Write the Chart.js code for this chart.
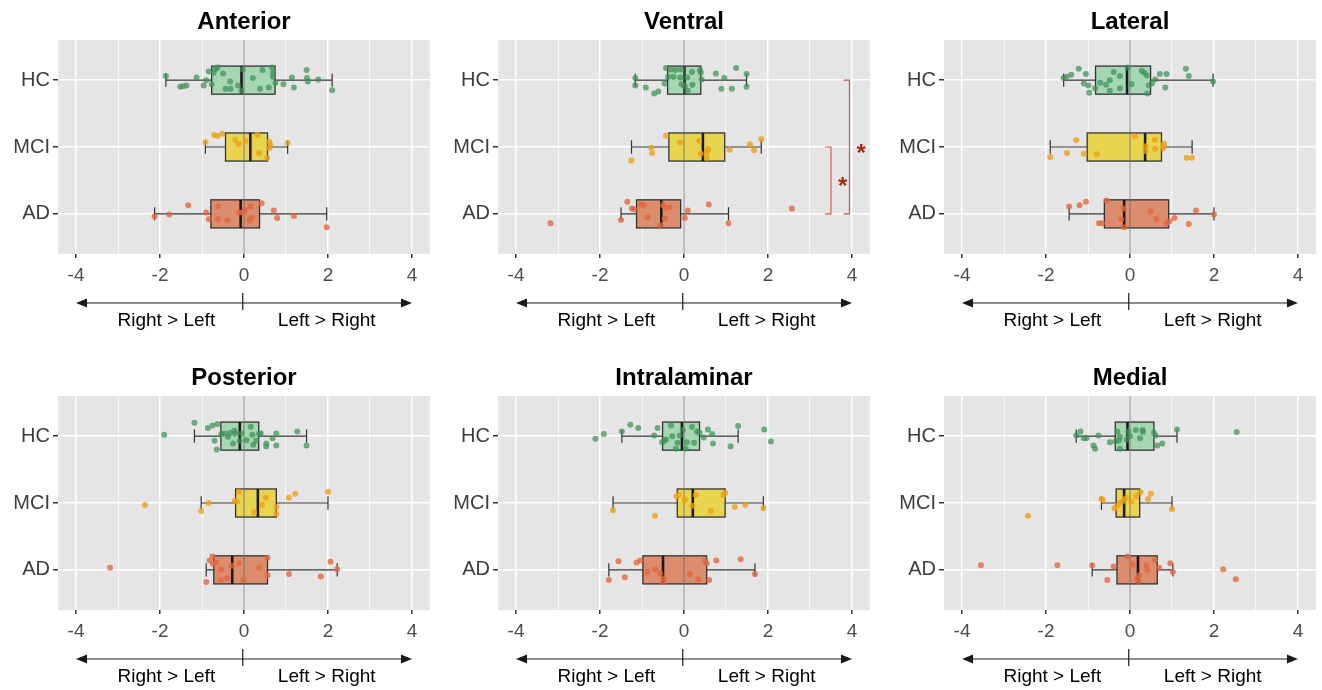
<!DOCTYPE html>
<html>
<head>
<meta charset="utf-8">
<title>Thalamic nuclei asymmetry</title>
<script src="https://cdn.jsdelivr.net/npm/chart.js@4.4.1/dist/chart.umd.min.js"></script>
<style>
  body { margin: 0; background: #fff; width: 1322px; height: 690px; overflow: hidden; position: relative; }
  .panel { position: absolute; width: 440px; height: 345px; }
  .panel.right { width: 436px; }
</style>
</head>
<body>
<div class="panel" style="left:0;top:0"><canvas id="c-anterior"></canvas></div>
<div class="panel" style="left:440px;top:0"><canvas id="c-ventral"></canvas></div>
<div class="panel right" style="left:886px;top:0"><canvas id="c-lateral"></canvas></div>
<div class="panel" style="left:0;top:356px"><canvas id="c-posterior"></canvas></div>
<div class="panel" style="left:440px;top:356px"><canvas id="c-intralaminar"></canvas></div>
<div class="panel right" style="left:886px;top:356px"><canvas id="c-medial"></canvas></div>

<script>
const groups = ["HC", "MCI", "AD"];
const xTicks = [-4, -2, 0, 2, 4];
const xGrid = [-4, -3, -2, -1, 0, 1, 2, 3, 4];

// box stats per group: [lower whisker, q1, median, q3, upper whisker]
const anteriorBox = [[-1.86, -0.77, -0.06, 0.74, 2.10], [-0.92, -0.44, 0.15, 0.56, 1.04], [-2.13, -0.79, -0.08, 0.37, 1.97]];
const ventralBox = [[-1.16, -0.39, 0.01, 0.40, 1.49], [-1.25, -0.36, 0.45, 0.97, 1.84], [-1.50, -1.13, -0.54, -0.08, 1.06]];
const lateralBox = [[-1.58, -0.82, -0.07, 0.49, 1.98], [-1.90, -1.02, 0.36, 0.75, 1.48], [-1.45, -0.61, -0.14, 0.92, 2.00]];
const posteriorBox = [[-1.18, -0.55, -0.10, 0.35, 1.49], [-1.02, -0.20, 0.33, 0.77, 2.00], [-0.90, -0.72, -0.28, 0.56, 2.22]];
const intralaminarBox = [[-1.48, -0.51, -0.05, 0.37, 1.29], [-1.69, -0.16, 0.21, 0.98, 1.89], [-1.79, -0.98, -0.50, 0.54, 1.69]];
const medialBox = [[-1.28, -0.35, -0.06, 0.57, 1.12], [-0.68, -0.33, -0.14, 0.23, 1.00], [-0.90, -0.31, 0.19, 0.65, 1.02]];

// jittered subjects: [asymmetry value, vertical jitter]
const anteriorHC = [[-1.86,-0.06],[-1.52,0.10],[-1.45,0.09],[-1.37,0.08],[-1.13,-0.04],[-0.96,0.08],[-0.90,0],[-0.84,-0.13],[-0.77,0.06],[-0.72,-0.11],[-0.67,-0.17],[-0.63,-0.19],[-0.50,-0.10],[-0.44,0.13],[-0.32,0.13],[-0.33,0.02],[-0.14,0.08],[-0.06,0.16],[-0.03,-0.16],[0.21,-0.03],[0.38,0.13],[0.44,-0.15],[0.59,0.11],[0.67,-0.19],[0.69,-0.11],[0.69,-0.05],[0.75,0.04],[0.94,0.06],[1.14,-0.04],[1.19,0.11],[1.49,-0.15],[1.50,-0.03],[1.52,0.02],[1.77,-0.01],[2.10,0.15]];
const anteriorMCI = [[-0.92,-0.07],[-0.71,-0.18],[-0.63,-0.17],[-0.52,-0.20],[-0.21,-0.11],[-0.13,-0.05],[0.03,-0.09],[0.32,-0.18],[0.36,0.09],[0.55,0.16],[0.60,-0.08],[0.63,-0.03],[0.60,0.02],[1.04,-0.06]];
const anteriorAD = [[-2.13,0.04],[-1.78,0.01],[-1.33,-0.13],[-0.90,-0.02],[-0.84,0.08],[-0.62,-0.11],[-0.62,0.08],[-0.40,0.10],[-0.12,-0.02],[-0.04,-0.02],[0.02,-0.05],[0.16,-0.11],[0.18,0.06],[0.13,0.10],[0.42,-0.16],[0.71,-0.05],[0.79,0.06],[1.19,0.03],[1.97,0.20]];

const ventralHC = [[-1.16,-0.03],[-1.16,0.08],[-0.91,0.11],[-0.71,0.20],[-0.61,0.17],[-0.46,0.05],[-0.43,-0.18],[-0.38,-0.05],[-0.31,-0.16],[-0.25,-0.05],[-0.20,-0.15],[-0.09,-0.04],[-0.07,-0.16],[-0.06,0.06],[0.02,0.09],[0.08,-0.04],[0.09,0.16],[0.19,-0.12],[0.20,0.07],[0.38,-0.15],[0.40,-0.11],[0.42,-0.01],[0.76,-0.10],[0.96,-0.03],[0.89,0.13],[1.14,0.13],[1.24,-0.18],[1.49,-0.09],[1.49,0.10]];
const ventralMCI = [[-1.25,0.20],[-0.78,0.01],[-0.76,0.09],[-0.43,-0.17],[-0.09,-0.07],[0.36,-0.09],[0.40,0.10],[0.54,0.16],[0.55,0.07],[0.58,0.03],[1.09,0.04],[1.57,-0.04],[1.67,0.05],[1.84,-0.12]];
const ventralAD = [[-3.18,0.14],[-1.50,0.09],[-1.35,-0.18],[-1.24,-0.08],[-1.19,-0.07],[-1.02,-0.14],[-0.95,-0.12],[-0.87,0.05],[-0.56,0.17],[-0.50,-0.13],[-0.45,-0.09],[-0.46,0.07],[-0.35,-0.10],[0.02,0.06],[0.09,-0.05],[0.59,-0.14],[1.06,0.14],[2.57,-0.08]];

const lateralHC = [[-1.58,-0.03],[-1.51,-0.05],[-1.40,-0.08],[-1.22,-0.17],[-1.10,0.05],[-1.05,-0.09],[-0.99,0.08],[-0.97,0.19],[-0.83,0.12],[-0.71,0.04],[-0.57,0.07],[-0.48,0],[-0.48,0.16],[-0.39,-0.12],[-0.24,0.12],[-0.24,-0.06],[-0.06,-0.19],[0.04,0.06],[0.28,-0.14],[0.34,-0.11],[0.40,-0.07],[0.41,0.20],[0.45,0.08],[0.52,0.05],[0.60,-0.01],[0.71,-0.09],[0.84,0.11],[0.87,-0.09],[1.33,-0.17],[1.40,-0.06],[1.98,0.02]];
const lateralMCI = [[-1.90,0.15],[-1.50,0.09],[-1.28,-0.10],[-1.10,0.10],[-0.79,0.11],[0.11,-0.16],[0.37,-0.01],[0.37,0.06],[0.59,-0.11],[0.60,0.03],[0.79,0.02],[0.81,-0.05],[0.80,-0.01],[1.35,0.16],[1.47,0.16]];
const lateralAD = [[-1.45,-0.11],[-1.20,-0.13],[-1.05,-0.18],[-0.74,0.14],[-0.67,0.14],[-0.56,-0.20],[-0.21,0.08],[-0.15,-0.08],[-0.14,0.20],[0.49,-0.04],[0.63,0.08],[0.87,0.14],[0.94,0.11],[1.06,0.06],[1.40,0.15],[1.57,-0.05],[2.00,0.01]];

const posteriorHC = [[-1.90,-0.02],[-1.18,-0.20],[-0.86,-0.12],[-0.75,-0.16],[-0.63,-0.18],[-0.70,0.07],[-0.65,0.20],[-0.54,-0.03],[-0.46,-0.04],[-0.38,0.01],[-0.33,-0.05],[-0.26,0.11],[-0.23,-0.08],[-0.21,-0.04],[-0.10,0.07],[-0.06,-0.04],[0.06,0.06],[0.16,-0.14],[0.20,-0.02],[0.22,0.13],[0.29,0.07],[0.36,-0.03],[0.40,-0.04],[0.53,0.11],[0.53,0.15],[0.68,0.03],[0.77,-0.04],[0.77,0.14],[1.27,-0.07],[1.49,0.14]];
const posteriorMCI = [[-2.36,0.03],[-1.02,0.12],[-0.84,0],[-0.22,-0.03],[-0.17,-0.02],[-0.12,-0.17],[0.24,0.14],[0.43,0.03],[0.52,-0.08],[0.77,0.06],[0.77,0.16],[1.07,-0.08],[1.22,-0.14],[2.00,-0.17]];
const posteriorAD = [[-3.19,-0.03],[-0.90,0.18],[-0.82,-0.14],[-0.75,-0.20],[-0.74,-0.09],[-0.67,-0.11],[-0.55,-0.01],[-0.55,0.16],[-0.40,0.12],[-0.29,-0.06],[-0.12,-0.10],[-0.02,0.15],[0.36,-0.03],[0.56,-0.18],[0.56,0.08],[1.07,0.06],[1.83,0.10],[2.06,-0.12],[2.22,-0.01]];

const intralaminarHC = [[-2.11,0.04],[-1.91,-0.03],[-1.48,-0.07],[-1.28,-0.17],[-1.09,-0.12],[-0.71,-0.01],[-0.63,-0.12],[-0.52,0.09],[-0.47,0.07],[-0.43,0.05],[-0.31,-0.16],[-0.28,0],[-0.19,0.19],[-0.15,0.10],[-0.10,-0.01],[-0.03,-0.09],[0.04,0.19],[0.07,0.09],[0.19,-0.14],[0.24,0.10],[0.31,-0.07],[0.37,-0.05],[0.47,0.02],[0.57,-0.10],[0.67,-0.03],[0.69,0.11],[1.11,0.15],[1.29,-0.15],[1.91,-0.10],[2.07,0.08]];
const intralaminarMCI = [[-1.69,0.11],[-0.69,0.19],[-0.18,-0.10],[-0.13,-0.12],[0.02,-0.05],[0.20,0.04],[0.28,-0.12],[0.64,0.12],[0.94,-0.12],[0.98,-0.15],[1.21,0.06],[1.46,0.03],[1.89,0.08]];
const intralaminarAD = [[-1.79,0.15],[-1.56,-0.13],[-1.41,0.11],[-1.13,-0.11],[-1.04,-0.14],[-0.87,0.03],[-0.69,-0.01],[-0.57,0.05],[-0.50,0.18],[-0.48,0.13],[0.14,0.06],[0.34,0.14],[0.50,-0.14],[0.54,-0.10],[0.60,0.15],[0.77,-0.14],[1.35,-0.16],[1.69,0.06]];

const medialHC = [[-1.28,-0.01],[-1.18,-0.07],[-1.10,0.03],[-1.04,0.03],[-0.75,-0.01],[-0.87,0.14],[-0.83,0.19],[-0.48,0.09],[-0.35,0.08],[-0.30,-0.07],[-0.26,0.07],[-0.24,0.19],[-0.24,0.01],[-0.08,0.05],[-0.04,-0.07],[0,0],[0.14,-0.09],[0.24,0.03],[0.30,-0.09],[0.31,-0.06],[0.57,-0.05],[0.61,-0.01],[0.65,0.14],[0.77,0.11],[1.12,-0.10],[2.54,-0.06]];
const medialMCI = [[-2.43,0.19],[-0.68,-0.06],[-0.65,-0.05],[-0.37,0.08],[-0.31,0.04],[-0.24,0],[-0.16,-0.03],[-0.10,-0.07],[0.03,-0.02],[0.15,-0.10],[0.25,-0.16],[0.43,-0.06],[0.50,-0.14],[1.00,0.09]];
const medialAD = [[-3.55,-0.07],[-1.73,-0.07],[-0.90,-0.07],[-0.54,0.15],[-0.39,-0.05],[-0.06,-0.20],[0.06,-0.08],[0.16,0.13],[0.20,0.17],[0.22,0.08],[0.39,-0.07],[0.41,0.01],[0.60,-0.15],[0.69,-0.03],[0.96,-0.10],[1.02,0.03],[2.22,-0.01],[2.52,0.14]];

// significance brackets (group index from/to, x position)
const ventralBrackets = [{ from: 1, to: 3, x: 3.94, label: "*" }, { from: 2, to: 3, x: 3.50, label: "*" }];

const boxFill = ["#a7d6b3", "#e8d44f", "#db8d6d"];
const pointFill = ["rgba(62,145,88,0.72)", "rgba(236,160,22,0.78)", "rgba(226,102,62,0.78)"];
const FONT = 'Arial, "Liberation Sans", sans-serif';

const panels = [
  { id: "c-anterior", title: "Anterior", box: anteriorBox, points: [anteriorHC, anteriorMCI, anteriorAD] },
  { id: "c-ventral", title: "Ventral", box: ventralBox, points: [ventralHC, ventralMCI, ventralAD], brackets: ventralBrackets },
  { id: "c-lateral", title: "Lateral", box: lateralBox, points: [lateralHC, lateralMCI, lateralAD] },
  { id: "c-posterior", title: "Posterior", box: posteriorBox, points: [posteriorHC, posteriorMCI, posteriorAD] },
  { id: "c-intralaminar", title: "Intralaminar", box: intralaminarBox, points: [intralaminarHC, intralaminarMCI, intralaminarAD] },
  { id: "c-medial", title: "Medial", box: medialBox, points: [medialHC, medialMCI, medialAD] },
];

const BOX_HALF = 0.21;
const CAP_HALF = 0.1;

function panelFor(chart) {
  return panels.find((p) => p.id === chart.canvas.id);
}

const boxplotPlugin = {
  id: "boxplot",
  beforeDraw(chart) {
    const { ctx, chartArea: a } = chart;
    ctx.save();
    ctx.fillStyle = "#e5e5e5";
    ctx.fillRect(a.left, a.top, a.right - a.left, a.bottom - a.top);
    ctx.restore();
  },
  beforeDatasetsDraw(chart) {
    const def = panelFor(chart);
    const { ctx, chartArea: a } = chart;
    const xs = chart.scales.x;
    const ys = chart.scales.y;
    ctx.save();
    def.box.forEach((s, i) => {
      const cat = i + 1;
      const yc = ys.getPixelForValue(cat);
      const yt = ys.getPixelForValue(cat - BOX_HALF);
      const yb = ys.getPixelForValue(cat + BOX_HALF);
      const [lo, q1, med, q3, hi] = s.map((v) => xs.getPixelForValue(v));
      ctx.strokeStyle = "#333";
      ctx.lineWidth = 1.2;
      ctx.beginPath();
      ctx.moveTo(lo, yc); ctx.lineTo(q1, yc);
      ctx.moveTo(q3, yc); ctx.lineTo(hi, yc);
      const ct = ys.getPixelForValue(cat - CAP_HALF);
      const cb = ys.getPixelForValue(cat + CAP_HALF);
      ctx.moveTo(lo, ct); ctx.lineTo(lo, cb);
      ctx.moveTo(hi, ct); ctx.lineTo(hi, cb);
      ctx.stroke();
      ctx.fillStyle = boxFill[i];
      ctx.fillRect(q1, yt, q3 - q1, yb - yt);
      ctx.lineWidth = 1.3;
      ctx.strokeRect(q1, yt, q3 - q1, yb - yt);
      ctx.strokeStyle = "#1a1a1a";
      ctx.lineWidth = 2.6;
      ctx.beginPath();
      ctx.moveTo(med, yt); ctx.lineTo(med, yb);
      ctx.stroke();
    });
    // zero reference line
    const x0 = xs.getPixelForValue(0);
    ctx.strokeStyle = "rgba(110,110,110,0.85)";
    ctx.lineWidth = 1;
    ctx.beginPath();
    ctx.moveTo(x0, a.top); ctx.lineTo(x0, a.bottom);
    ctx.stroke();
    ctx.restore();
  },
  afterDraw(chart) {
    const def = panelFor(chart);
    const { ctx, chartArea: a } = chart;
    const xs = chart.scales.x;
    const ys = chart.scales.y;
    ctx.save();
    // title
    ctx.fillStyle = "#000";
    ctx.font = "bold 24px " + FONT;
    ctx.textAlign = "center";
    ctx.textBaseline = "middle";
    ctx.fillText(def.title, (a.left + a.right) / 2, 22);

    // direction arrow under the axis
    const ay = a.bottom + 49;
    const xl = xs.getPixelForValue(-4);
    const xr = xs.getPixelForValue(4);
    ctx.strokeStyle = "#1a1a1a";
    ctx.fillStyle = "#1a1a1a";
    ctx.lineWidth = 1.2;
    ctx.beginPath();
    ctx.moveTo(xl + 8, ay); ctx.lineTo(xr - 8, ay);
    const xm = xs.getPixelForValue(-0.03);
    ctx.moveTo(xm, ay - 10); ctx.lineTo(xm, ay + 7);
    ctx.stroke();
    ctx.beginPath();
    ctx.moveTo(xl, ay); ctx.lineTo(xl + 11, ay - 4.5); ctx.lineTo(xl + 11, ay + 4.5); ctx.closePath();
    ctx.moveTo(xr, ay); ctx.lineTo(xr - 11, ay - 4.5); ctx.lineTo(xr - 11, ay + 4.5); ctx.closePath();
    ctx.fill();
    ctx.font = "19px " + FONT;
    ctx.fillStyle = "#000";
    ctx.fillText("Right > Left", xs.getPixelForValue(-1.85), a.bottom + 67);
    ctx.fillText("Left > Right", xs.getPixelForValue(1.97), a.bottom + 67);

    // significance brackets
    (def.brackets || []).forEach((b) => {
      const bx = xs.getPixelForValue(b.x);
      const bl = xs.getPixelForValue(b.x - 0.14);
      const y1 = ys.getPixelForValue(b.from);
      const y2 = ys.getPixelForValue(b.to);
      ctx.strokeStyle = "#cc5a3c";
      ctx.lineWidth = 1.1;
      ctx.beginPath();
      ctx.moveTo(bl, y1); ctx.lineTo(bx, y1); ctx.lineTo(bx, y2); ctx.lineTo(bl, y2);
      ctx.stroke();
      ctx.fillStyle = "#a52a0c";
      ctx.font = "bold 24px " + FONT;
      ctx.textBaseline = "alphabetic";
      ctx.fillText(b.label, xs.getPixelForValue(b.x + 0.28), ys.getPixelForValue((b.from + b.to) / 2) + 14);
    });
    ctx.restore();
  },
};

function buildPanel(def, isRight) {
  const canvas = document.getElementById(def.id);
  return new Chart(canvas, {
    type: "scatter",
    data: {
      datasets: def.points.map((pts, i) => ({
        label: groups[i],
        data: pts.map(([v, dy]) => ({ x: v, y: i + 1 + dy })),
        backgroundColor: pointFill[i],
        pointRadius: 3,
        pointHoverRadius: 3,
        borderWidth: 0,
      })),
    },
    options: {
      responsive: true,
      maintainAspectRatio: false,
      animation: false,
      events: [],
      layout: { padding: { top: 40, right: isRight ? 6 : 10, bottom: 61, left: 0 } },
      plugins: { legend: { display: false }, tooltip: { enabled: false } },
      scales: {
        x: {
          type: "linear",
          min: -4.43,
          max: 4.43,
          afterBuildTicks: (s) => { s.ticks = xGrid.map((v) => ({ value: v })); },
          afterFit: (s) => { s.height = 30; },
          border: { display: false },
          grid: {
            color: "#ffffff",
            lineWidth: (c) => (xTicks.includes(c.tick.value) ? 1.5 : 0.7),
            tickColor: (c) => (xTicks.includes(c.tick.value) ? "#333" : "rgba(0,0,0,0)"),
            tickLength: 4,
          },
          ticks: {
            autoSkip: false,
            maxRotation: 0,
            padding: 6,
            color: "#4d4d4d",
            font: { family: FONT, size: 19 },
            callback: (v) => (xTicks.includes(v) ? String(v) : ""),
          },
        },
        y: {
          type: "linear",
          reverse: true,
          min: 0.4,
          max: 3.6,
          afterBuildTicks: (s) => { s.ticks = groups.map((g, i) => ({ value: i + 1 })); },
          afterFit: (s) => { s.width = 58; },
          border: { display: false },
          grid: { color: "#ffffff", lineWidth: 1.5, tickColor: "#333", tickLength: 5 },
          ticks: {
            padding: 3,
            color: "#3d3d3d",
            font: { family: FONT, size: 20 },
            callback: (v) => groups[v - 1] || "",
          },
        },
      },
    },
    plugins: [boxplotPlugin],
  });
}

panels.forEach((def, i) => buildPanel(def, i % 3 === 2));
</script>
</body>
</html>
